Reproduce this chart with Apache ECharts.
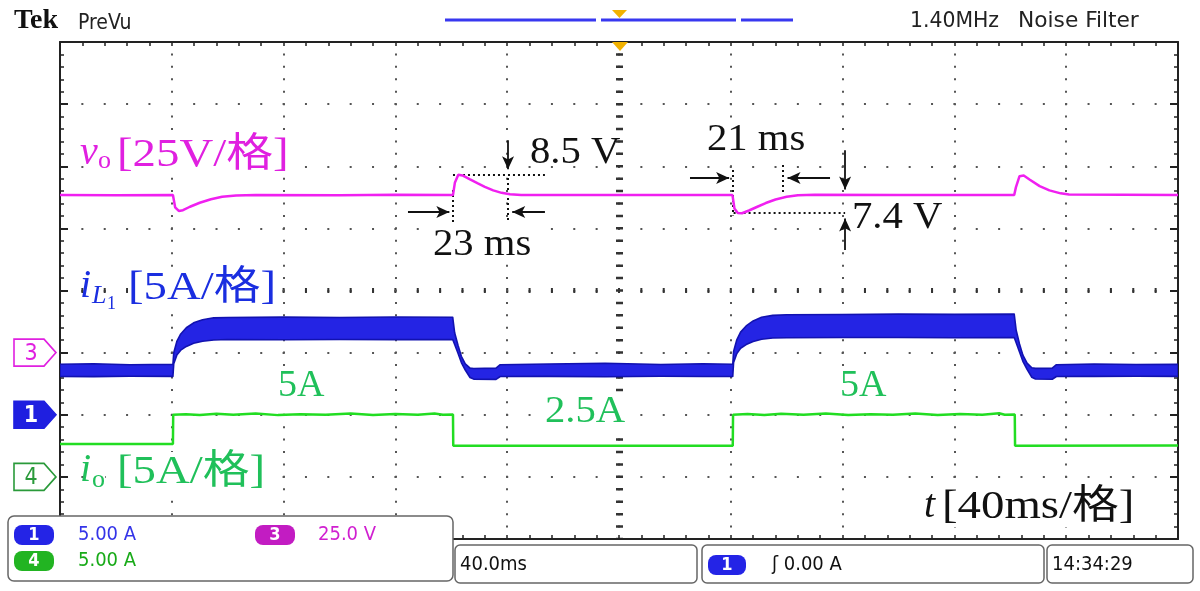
<!DOCTYPE html>
<html><head><meta charset="utf-8">
<script src="https://cdn.jsdelivr.net/npm/echarts@6/dist/echarts.min.js"></script>
<style>html,body{margin:0;padding:0;background:#fff}#c{width:1200px;height:591px}</style>
</head><body><div id="c"></div>
<script>
// ---- Data (time in ms; 40 ms/div, 10 div) ----
// Channel 3: output voltage vo (V), 25 V/div
const voTime = [0,20,40.4,41.2,42.5,44,46.5,50,54,58,63,70,100,120,140.6,141.3,142.5,144,146.7,149.5,152,155,158,161,165,200,240.6,241.3,242.5,244,246.5,249.5,252.5,256,260,264,270,300,341.4,342,343.3,344.8,347,350.5,354,358,361,400];
const voVolt = [63.4,63.3,63.4,58.5,57.0,57.3,58.7,60.3,61.7,62.7,63.2,63.4,63.3,63.5,63.4,68.5,71.6,71.3,69.7,68.1,66.7,65.3,64.3,63.7,63.4,63.4,63.4,58.0,56.2,56.1,57.2,58.7,60.2,61.6,62.7,63.3,63.5,63.4,63.4,66.5,71.0,71.3,69.6,67.0,65.3,64.1,63.6,63.4];
// Channel 1: inductor current iL1 (A), 5 A/div, ripple envelope
const iLTime  = [0,12,25,40.4,40.7,41.8,43.2,45.2,47.8,51,55,60,80,100,120,140.5,141.2,142.4,143.6,145,146.7,148,156,157.5,175,195,215,230,240.7,241,242.1,243.5,245.5,248,251,255,260,280,300,320,341.4,342.1,343.3,344.5,346,347.7,349,355,356.5,370,385,400];
const iLUpper = [4.06,4.1,4.03,4.06,5.0,5.9,6.5,7.0,7.4,7.65,7.8,7.83,7.86,7.83,7.87,7.85,6.6,5.6,4.7,4.1,3.75,3.72,3.75,4.03,4.08,4.15,4.05,4.1,4.06,5.1,6.0,6.65,7.15,7.55,7.85,8.0,8.05,8.07,8.1,8.08,8.1,6.8,5.7,4.8,4.15,3.78,3.73,3.75,4.03,4.08,4.05,4.06];
const iLLower = [3.09,3.07,3.1,3.09,4.1,4.8,5.2,5.5,5.75,5.92,6.02,6.06,6.04,6.06,6.05,6.06,5.65,4.95,4.2,3.6,3.0,2.87,2.85,3.08,3.09,3.06,3.1,3.08,3.09,4.2,4.9,5.35,5.65,5.9,6.08,6.18,6.2,6.22,6.22,6.2,6.22,5.8,5.05,4.3,3.65,3.02,2.88,2.86,3.08,3.09,3.1,3.09];
// Channel 4: output current io (A), 5 A/div
const ioTime = [0,40.4,40.5,45,50,56,62,70,78,86,95,104,112,120,128,134,137,140.6,140.7,240.7,240.8,246,252,258,266,274,282,290,298,306,314,322,330,336,338,341.6,341.7,400];
const ioAmp  = [2.65,2.65,5.0,5.05,4.98,5.08,5.0,5.1,4.97,5.05,5.0,5.1,4.98,5.06,5.0,5.1,5.0,5.02,2.5,2.5,5.0,5.06,4.98,5.08,5.0,5.1,4.98,5.05,5.0,5.1,4.98,5.06,5.0,5.12,5.0,5.02,2.5,2.52];
// Annotations in (ms, V) of channel 3: [t1, v1, t2, v2]
const annArrows = [[160.3,85.5,160.3,73.8],[280.9,81.4,280.9,65.6],[280.9,41.3,280.9,54.0],[124.5,56.6,139.3,56.6],[173.5,56.6,161.8,56.6],[225.4,70.3,239.4,70.3],[275.5,70.3,260.3,70.3]];
const annDotted = [[140.6,71.6,173.5,71.6],[140.6,65.4,140.6,52.6],[160.3,70.3,160.3,52.6],[240.8,73.5,240.8,55.2],[258.7,75.5,258.7,64.6],[241,56.1,280.9,56.1]];

const zip = (a, b) => a.map((v, i) => [v, b[i]]);
const MAG = '#f020f0', BLU = '#2424e4', GRN = '#22dd22';
const SERIF = "'Liberation Serif','Noto Sans CJK SC',serif";
const SCOPE = "'DejaVu Sans Condensed','DejaVu Sans',sans-serif";

const chart = echarts.init(document.getElementById('c'), null, {renderer: 'canvas'});

const hidden = {axisLine:{show:false}, axisTick:{show:false}, axisLabel:{show:false}};
function frameX(pos) {
  return {type:'value', min:0, max:400, interval:8, position:pos,
    axisLine:{show:true, onZero:false, lineStyle:{color:'#222', width:2}},
    axisTick:{show:true, inside:true, length:4, lineStyle:{color:'#222', width:1.5}},
    axisLabel:{show:false}, splitLine:{show:false}};
}
function frameY(pos) {
  return {type:'value', min:0, max:40, interval:1, position:pos,
    axisLine:{show:true, onZero:false, lineStyle:{color:'#222', width:2}},
    axisTick:{show:true, inside:true, length:4, lineStyle:{color:'#222', width:1.5}},
    axisLabel:{show:false}, splitLine:{show:false}};
}
function majorY(pos) {
  return {type:'value', min:0, max:40, interval:5, position:pos,
    axisLine:{show:false, onZero:false},
    axisTick:{show:true, inside:true, length:8, lineStyle:{color:'#222', width:2}},
    axisLabel:{show:false}, splitLine:{show:false}};
}

const markLineData = [];
annArrows.forEach(a => markLineData.push([
  {coord:[a[0],a[1]], symbol:'none'},
  {coord:[a[2],a[3]], symbol:'arrow', symbolSize:[9,13]}
]));
annDotted.forEach(a => markLineData.push([
  {coord:[a[0],a[1]], symbol:'none', lineStyle:{type:[2,3], width:2, color:'#111'}},
  {coord:[a[2],a[3]], symbol:'none'}
]));

function txt(x, y, text, font, fill, sx, extra, bg) {
  const st = {text:text, font:font, fill:fill, textAlign:'left', textVerticalAlign:'middle'};
  if (bg) st.backgroundColor = '#fff';
  return Object.assign({type:'text', x:x, y:y, z:50, scaleX: sx || 1, style:st}, extra || {});
}
function rrect(x, y, w, h, r, fill, stroke) {
  return {type:'rect', z:60, shape:{x:x, y:y, width:w, height:h, r:r},
    style:{fill:fill, stroke:stroke, lineWidth:1.5}};
}
function badge(x, y, w, h, fill, label) {
  return [
    {type:'rect', z:70, shape:{x:x, y:y, width:w, height:h, r:8}, style:{fill:fill}},
    {type:'text', z:71, x:x + w/2, y:y + h/2, style:{text:label, font:"bold 18px " + SCOPE, fill:'#fff', textAlign:'center', textVerticalAlign:'middle'}}
  ];
}
function marker(y, color, filled, label) {
  return [
    {type:'polygon', z:40, shape:{points:[[14,y-13.5],[44,y-13.5],[56,y],[44,y+13.5],[14,y+13.5]]},
      style:{fill: filled ? color : '#fff', stroke: color, lineWidth:1.6}},
    {type:'text', z:41, x:31, y:y+1, style:{text:label, font:(filled ? 'bold ' : '') + "23px " + SCOPE, fill: filled ? '#fff' : color, textAlign:'center', textVerticalAlign:'middle'}}
  ];
}

const F_LBL = "40px " + SERIF, F_ITAL = "italic 40px " + SERIF, F_ANN = "38px " + SERIF;
const LX = 1.17, AX = 1.07;
const F_UI = "20px " + SCOPE;
const graphics = [
  // top banner
  txt(14, 21, 'Tek', "bold 28px 'Liberation Serif',serif", '#111'),
  txt(78, 24, 'PreVu', "21px " + SCOPE, '#222'),
  txt(910, 22, '1.40MHz', "21px " + SCOPE, '#222', 1.08),
  txt(1018, 22, 'Noise Filter', "21px " + SCOPE, '#222', 1.15),
  {type:'line', z:30, shape:{x1:445, y1:20, x2:596, y2:20}, style:{stroke:'#3838f0', lineWidth:3}},
  {type:'line', z:30, shape:{x1:601, y1:20, x2:736, y2:20}, style:{stroke:'#3838f0', lineWidth:3}},
  {type:'line', z:30, shape:{x1:741, y1:20, x2:793, y2:20}, style:{stroke:'#3838f0', lineWidth:3}},
  {type:'polygon', z:31, shape:{points:[[612,10],[627,10],[619.5,18]]}, style:{fill:'#f2b200'}},
  {type:'polygon', z:31, shape:{points:[[612,42],[628,42],[620,51]]}, style:{fill:'#f2b200'}},
  // channel ground markers
  ...marker(352.6, '#e020e0', false, '3'),
  ...marker(414.8, '#1f1fe0', true, '1'),
  ...marker(476.9, '#2a9a3a', false, '4'),
  // channel labels (subscripts first so main glyphs stay on top)
  txt(98, 161, 'o', "26px " + SERIF, '#e020e0', 1, null, true),
  txt(80, 153, 'v', F_ITAL, '#e020e0'),
  txt(117, 155, '[25V/格]', F_LBL, '#e020e0', LX, null, true),
  txt(107, 304, '1', "18px " + SERIF, '#1a2ee0', 1, null, true),
  txt(92, 296, 'L', "italic 26px " + SERIF, '#1a2ee0'),
  txt(80, 286, 'i', F_ITAL, '#1a2ee0'),
  txt(128, 288, '[5A/格]', F_LBL, '#1a2ee0', LX, null, true),
  txt(92, 480, 'o', "26px " + SERIF, '#20c05a', 1, null, true),
  txt(80, 470, 'i', F_ITAL, '#20c05a'),
  txt(117, 472, '[5A/格]', F_LBL, '#20c05a', LX, null, true),
  txt(924, 506, 't', F_ITAL, '#111'),
  txt(942, 507, '[40ms/格]', F_LBL, '#111', LX, null, true),
  // annotations
  txt(530, 153, '8.5 V', F_ANN, '#111', AX),
  txt(433, 245, '23 ms', F_ANN, '#111', AX, null, true),
  txt(707, 140, '21 ms', F_ANN, '#111', AX, null, true),
  txt(852, 218, '7.4 V', F_ANN, '#111', AX, null, true),
  txt(278, 386, '5A', F_ANN, '#20c05a', 1, null, true),
  txt(545, 412, '2.5A', F_ANN, '#20c05a', AX, null, true),
  txt(840, 386, '5A', F_ANN, '#20c05a', 1, null, true),
  // bottom status bar
  rrect(8, 516, 445, 65, 6, '#fff', '#666'),
  ...badge(14, 525, 40, 20, '#2424e6', '1'),
  txt(78, 535, '5.00 A', F_UI, '#3434e8', 1, {z:72}),
  ...badge(255, 525, 40, 20, '#c21cc2', '3'),
  txt(318, 535, '25.0 V', F_UI, '#d020d0', 1, {z:72}),
  ...badge(14, 551, 40, 20, '#22b422', '4'),
  txt(78, 561, '5.00 A', F_UI, '#18aa18', 1, {z:72}),
  rrect(455, 545, 242, 38, 5, '#fff', '#666'),
  txt(460, 565, '40.0ms', F_UI, '#111', 1, {z:72}),
  rrect(702, 545, 342, 38, 5, '#fff', '#666'),
  ...badge(708, 555, 38, 20, '#2424e6', '1'),
  txt(772, 565, 'ʃ 0.00 A', F_UI, '#111', 1, {z:72}),
  rrect(1047, 545, 146, 38, 5, '#fff', '#666'),
  txt(1052, 565, '14:34:29', F_UI, '#111', 1, {z:72})
];

const option = {
  animation: false,
  backgroundColor: '#fff',
  grid: {left:60, top:42, width:1118, height:497, containLabel:false},
  xAxis: [
    frameX('bottom'),
    frameX('top'),
    Object.assign({type:'value', min:0, max:400, interval:40}, hidden,
      {splitLine:{show:true, showMinLine:false, showMaxLine:false, lineStyle:{color:'#555', width:2, type:[2, 10.425], dashOffset:1}}}),
    Object.assign({type:'value', min:0, max:400, interval:200}, hidden,
      {splitLine:{show:true, showMinLine:false, showMaxLine:false, lineStyle:{color:'#333', width:7, type:[2.5, 9.925], dashOffset:1.25}}})
  ],
  yAxis: [
    frameY('left'),
    frameY('right'),
    Object.assign({type:'value', min:0, max:8, interval:1}, hidden,
      {splitLine:{show:true, showMinLine:false, showMaxLine:false, lineStyle:{color:'#555', width:2, type:[2, 20.36], dashOffset:1}}}),
    Object.assign({type:'value', min:0, max:8, interval:4}, hidden,
      {splitLine:{show:true, showMinLine:false, showMaxLine:false, lineStyle:{color:'#333', width:5, type:[2, 20.36], dashOffset:1}}}),
    {type:'value', min:-75, max:125, show:false},
    {type:'value', min:-10, max:30, show:false},
    {type:'value', min:-5, max:35, show:false},
    majorY('left'),
    majorY('right')
  ],
  series: [
    {name:'iL1', type:'custom', coordinateSystem:'cartesian2d', xAxisIndex:0, yAxisIndex:5, z:3, clip:true,
      data: iLTime.map((t, i) => [t, iLUpper[i], iLLower[i]]),
      encode: {x:0, y:[1, 2]},
      renderItem: function (params, api) {
        if (params.dataIndex !== 0) return null;
        const up = iLTime.map((t, i) => api.coord([t, iLUpper[i]]));
        const lo = iLTime.map((t, i) => api.coord([t, iLLower[i]])).reverse();
        return {type:'polygon', shape:{points: up.concat(lo)},
          style:{fill:BLU, stroke:'#1212b0', lineWidth:1.6, lineJoin:'round'}};
      }},
    {name:'io', type:'line', xAxisIndex:0, yAxisIndex:6, symbol:'none', z:4,
      data: zip(ioTime, ioAmp), lineStyle:{color:GRN, width:2.5}},
    {name:'vo', type:'line', xAxisIndex:0, yAxisIndex:4, symbol:'none', z:5,
      data: zip(voTime, voVolt), lineStyle:{color:MAG, width:2.5},
      markLine:{silent:true, animation:false, label:{show:false},
        lineStyle:{color:'#111', width:1.8, type:'solid'}, data: markLineData}}
  ],
  graphic: graphics
};
chart.setOption(option);
</script>
</body></html>
